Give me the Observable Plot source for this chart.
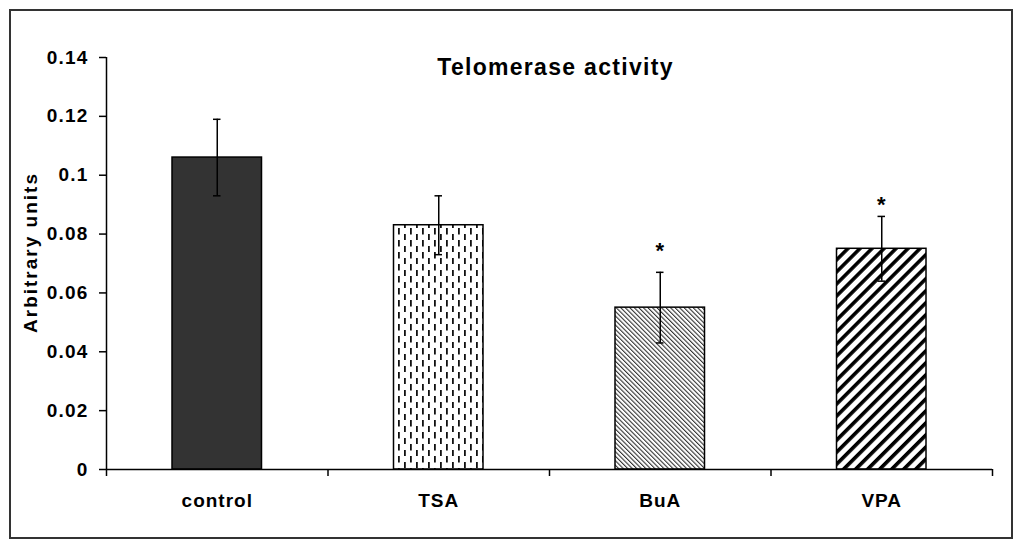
<!DOCTYPE html>
<html><head><meta charset="utf-8">
<script src="https://cdn.jsdelivr.net/npm/d3@7"></script>
<script src="https://cdn.jsdelivr.net/npm/@observablehq/plot@0.6"></script>
<style>
body{margin:0;background:#fff;}
svg text{letter-spacing:1.2px;}
svg text[aria-label="title"]{letter-spacing:1.3px;}
svg text[aria-label="ylabel"]{letter-spacing:2px;}
svg text[aria-label="cats"]{letter-spacing:1px;}
</style></head><body><div id="chart"></div>
<script>
const categories = ["control","TSA","BuA","VPA"];
const values = [0.106, 0.083, 0.055, 0.075];
const errors = [0.013, 0.010, 0.012, 0.011];
const starY = [null, null, 0.0758, 0.0917];
const yTicks = [0, 0.02, 0.04, 0.06, 0.08, 0.1, 0.12, 0.14];
const yTickLabels = ["0","0.02","0.04","0.06","0.08","0.1","0.12","0.14"];
const title = "Telomerase activity";
const yLabel = "Arbitrary units";

const data = categories.map((c, i) => ({c, i, v: values[i], e: errors[i], s: starY[i]}));
const fills = ["#333333", "url(#pTSA)", "url(#pBuA)", "url(#pVPA)"];

const chart = Plot.plot({
  width: 1024, height: 550,
  marginLeft: 106, marginRight: 32, marginTop: 57, marginBottom: 81,
  style: {fontFamily: "'Liberation Sans', Arial, sans-serif", fontSize: "19px", fontWeight: "bold", color: "#000", background: "#fff"},
  x: {domain: [0, 4], axis: null},
  y: {domain: [0, 0.14], axis: null},
  color: {domain: categories, range: fills},
  marks: [
    Plot.rectY(data, {x1: "i", x2: d => d.i + 1, y1: 0, y2: "v", fill: "c", stroke: "#000", strokeWidth: 1.5, insetLeft: 66, insetRight: 66}),
    Plot.ruleX(data, {x: d => d.i + 0.5, y1: d => d.v - d.e, y2: d => d.v + d.e, stroke: "#000", strokeWidth: 1.5}),
    Plot.ruleY(data, {y: d => d.v + d.e, x1: "i", x2: d => d.i + 1, insetLeft: 107, insetRight: 107, stroke: "#000", strokeWidth: 1.5}),
    Plot.ruleY(data, {y: d => d.v - d.e, x1: "i", x2: d => d.i + 1, insetLeft: 107, insetRight: 107, stroke: "#000", strokeWidth: 1.5}),
    Plot.text(data.filter(d => d.s != null), {x: d => d.i + 0.5, y: "s", text: () => "*", fontSize: 22, dy: 5}),
    Plot.ruleX([0], {stroke: "#000", strokeWidth: 1.5}),
    Plot.ruleY([0], {stroke: "#000", strokeWidth: 1.5}),
    Plot.axisY({ticks: yTicks, tickFormat: d => yTickLabels[yTicks.findIndex(t => Math.abs(t - d) < 1e-9)], tickSize: 7, tickPadding: 11, strokeWidth: 1.5, label: null}),
    Plot.axisX({ticks: [0, 1, 2, 3, 4], tickFormat: () => "", tickSize: 7, strokeWidth: 1.5, label: null}),
    Plot.text(data, {x: d => d.i + 0.5, frameAnchor: "bottom", lineAnchor: "middle", dy: 31, text: "c", ariaLabel: () => "cats"}),
    Plot.text([title], {frameAnchor: "top", lineAnchor: "middle", dx: 6, dy: 10, fontSize: 23, ariaLabel: () => "title"}),
    Plot.text([yLabel], {frameAnchor: "left", textAnchor: "middle", dx: -76, dy: -11, rotate: -90, ariaLabel: () => "ylabel"})
  ]
});

const svg = d3.select(chart);
const defs = svg.insert("defs", ":first-child");
// TSA: staggered vertical dashes
const p1 = defs.append("pattern").attr("id", "pTSA").attr("patternUnits", "userSpaceOnUse").attr("width", 12).attr("height", 12);
p1.append("rect").attr("width", 12).attr("height", 12).attr("fill", "#fff");
p1.append("rect").attr("x", 2).attr("y", 0).attr("width", 1.8).attr("height", 6.5).attr("fill", "#111");
p1.append("rect").attr("x", 8).attr("y", 6).attr("width", 1.8).attr("height", 6.5).attr("fill", "#111");
// BuA: fine "\" hatching
const p2 = defs.append("pattern").attr("id", "pBuA").attr("patternUnits", "userSpaceOnUse").attr("width", 3.2).attr("height", 3.2).attr("patternTransform", "rotate(-45)");
p2.append("rect").attr("width", 3.2).attr("height", 3.2).attr("fill", "#fff");
p2.append("rect").attr("width", 1.1).attr("height", 3.2).attr("fill", "#333");
// VPA: thick "/" hatching
const p3 = defs.append("pattern").attr("id", "pVPA").attr("patternUnits", "userSpaceOnUse").attr("width", 8.5).attr("height", 8.5).attr("patternTransform", "rotate(45)");
p3.append("rect").attr("width", 8.5).attr("height", 8.5).attr("fill", "#fff");
p3.append("rect").attr("width", 3.6).attr("height", 8.5).attr("fill", "#000");
// outer border
svg.append("rect").attr("x", 10).attr("y", 10).attr("width", 1002).attr("height", 528).attr("fill", "none").attr("stroke", "#333").attr("stroke-width", 2);

document.getElementById("chart").appendChild(chart);
</script></body></html>
